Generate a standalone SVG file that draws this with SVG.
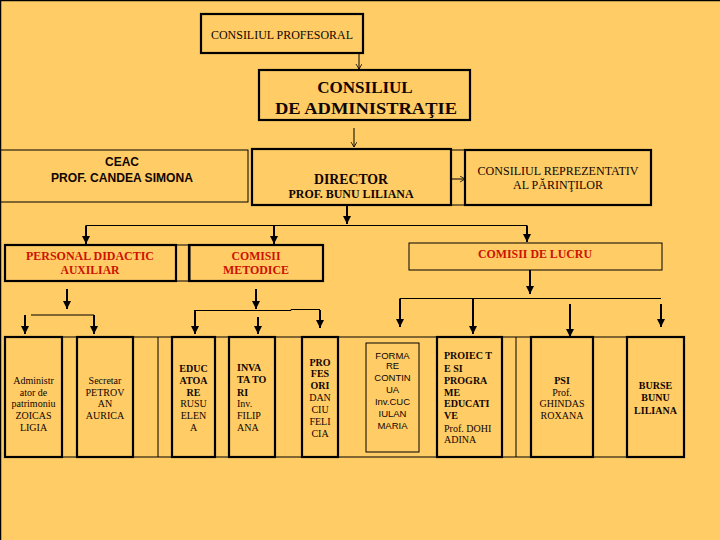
<svg xmlns="http://www.w3.org/2000/svg" width="720" height="540" viewBox="0 0 720 540">
<defs>
<marker id="ah" markerUnits="userSpaceOnUse" markerWidth="9" markerHeight="9" refX="8" refY="4" orient="auto">
<path d="M0,0 L8,4 L0,8 z" fill="#000"/>
</marker>
<marker id="ahs" markerUnits="userSpaceOnUse" markerWidth="7" markerHeight="7" refX="5" refY="3" orient="auto">
<path d="M0,0 L5,3 L0,6" fill="none" stroke="#000" stroke-width="0.8"/>
</marker>
<style>
.thick{fill:none;stroke:#000;stroke-width:2.2}
.thin{fill:none;stroke:#000;stroke-width:1}
.ts{font-family:"Liberation Serif","Times New Roman",serif;fill:#100500}
.ss{font-family:"Liberation Sans",Arial,sans-serif;fill:#100500}
.b{font-weight:bold}
.red{fill:#CC1100}
.c{text-anchor:middle}
.sm{font-size:10px}
.conn{stroke:#000;stroke-width:2;fill:none}
.connt{stroke:#000;stroke-width:1;fill:none}
</style>
</defs>
<rect x="0" y="0" width="720" height="540" fill="#FFCC66"/>
<path d="M0.5,540 V0.5 H720" fill="none" stroke="#000" stroke-width="1.5"/>

<!-- bottom row frame -->
<g id="row-frame">
<rect class="thin" x="5" y="337" width="679" height="120"/>
<line class="thin" x1="158" y1="337" x2="158" y2="457"/>
<line class="thin" x1="516" y1="337" x2="516" y2="457"/>
<rect class="thin" x="451" y="150" width="14" height="55"/>
<rect class="thin" x="176" y="245" width="14" height="36"/>
</g>

<g id="consiliul-profesoral">
<rect class="thick" x="201" y="14" width="162" height="39"/>
<text class="ts c" x="282" y="39" font-size="12" textLength="142" lengthAdjust="spacingAndGlyphs">CONSILIUL PROFESORAL</text>
</g>

<g id="consiliul-administratie">
<rect class="thick" x="259" y="70" width="211" height="50"/>
<text class="ts b c" x="365" y="93" font-size="17">CONSILIUL</text>
<text class="ts b c" x="366" y="114" font-size="17" textLength="182" lengthAdjust="spacingAndGlyphs">DE  ADMINISTRAŢIE</text>
</g>

<g id="ceac">
<rect class="thin" x="0.5" y="150" width="247.5" height="52"/>
<text class="ss b c" x="122" y="166" font-size="12">CEAC</text>
<text class="ss b c" x="122" y="182" font-size="12" textLength="142" lengthAdjust="spacingAndGlyphs">PROF. CANDEA SIMONA</text>
</g>

<g id="director">
<rect class="thick" x="252" y="149" width="199" height="56"/>
<text class="ts b c" x="351" y="184" font-size="15" textLength="74" lengthAdjust="spacingAndGlyphs">DIRECTOR</text>
<text class="ts b c" x="351" y="198" font-size="12.5" textLength="125" lengthAdjust="spacingAndGlyphs">PROF. BUNU LILIANA</text>
</g>

<g id="consiliul-reprezentativ">
<rect class="thick" x="465" y="150" width="186" height="55"/>
<text class="ts c" x="558" y="175" font-size="13" textLength="161" lengthAdjust="spacingAndGlyphs">CONSILIUL REPREZENTATIV</text>
<text class="ts c" x="558" y="189" font-size="13" textLength="90" lengthAdjust="spacingAndGlyphs">AL PĂRINŢILOR</text>
</g>

<g id="personal-didactic-auxiliar">
<rect class="thick" x="5" y="245" width="171" height="36"/>
<text class="ts b c red" x="90" y="260" font-size="13" textLength="128" lengthAdjust="spacingAndGlyphs">PERSONAL DIDACTIC</text>
<text class="ts b c red" x="90" y="274" font-size="13" textLength="59" lengthAdjust="spacingAndGlyphs">AUXILIAR</text>
</g>

<g id="comisii-metodice">
<rect class="thick" x="189" y="245" width="134" height="36"/>
<text class="ts b c red" x="256" y="260" font-size="13" textLength="49" lengthAdjust="spacingAndGlyphs">COMISII</text>
<text class="ts b c red" x="256" y="274" font-size="13" textLength="66" lengthAdjust="spacingAndGlyphs">METODICE</text>
</g>

<g id="comisii-de-lucru">
<rect class="thin" x="409" y="243" width="253" height="27"/>
<text class="ts b c red" x="535" y="258" font-size="13" textLength="114" lengthAdjust="spacingAndGlyphs">COMISII DE LUCRU</text>
</g>

<g id="administrator">
<rect class="thick" x="5" y="337" width="57" height="120"/>
<text class="ts c sm" x="33.5" y="384">Administr</text>
<text class="ts c sm" x="33.5" y="396">ator de</text>
<text class="ts c sm" x="33.5" y="407">patrimoniu</text>
<text class="ts c sm" x="33.5" y="419">ZOICAS</text>
<text class="ts c sm" x="33.5" y="431">LIGIA</text>
</g>

<g id="secretar">
<rect class="thick" x="77" y="337" width="56" height="120"/>
<text class="ts c sm" x="105" y="384">Secretar</text>
<text class="ts c sm" x="105" y="396">PETROV</text>
<text class="ts c sm" x="105" y="407">AN</text>
<text class="ts c sm" x="105" y="419">AURICA</text>
</g>

<g id="educatoare">
<rect class="thick" x="172" y="337" width="43" height="120"/>
<text class="ts b c sm" x="193.5" y="372">EDUC</text>
<text class="ts b c sm" x="193.5" y="384">ATOA</text>
<text class="ts b c sm" x="193.5" y="396">RE</text>
<text class="ts c sm" x="193.5" y="407">RUSU</text>
<text class="ts c sm" x="193.5" y="419">ELEN</text>
<text class="ts c sm" x="193.5" y="431">A</text>
</g>

<g id="invatatori">
<rect class="thick" x="229" y="337" width="46" height="120"/>
<text class="ts b sm" x="237" y="371">INVA</text>
<text class="ts b sm" x="237" y="383">TA TO</text>
<text class="ts b sm" x="237" y="396">RI</text>
<text class="ts sm" x="237" y="407">Inv.</text>
<text class="ts sm" x="237" y="419">FILIP</text>
<text class="ts sm" x="237" y="431">ANA</text>
</g>

<g id="profesori">
<rect class="thick" x="302" y="337" width="36" height="120"/>
<text class="ts b c sm" x="320" y="366">PRO</text>
<text class="ts b c sm" x="320" y="377">FES</text>
<text class="ts b c sm" x="320" y="389">ORI</text>
<text class="ts c sm" x="320" y="401">DAN</text>
<text class="ts c sm" x="320" y="413">CIU</text>
<text class="ts c sm" x="320" y="425">FELI</text>
<text class="ts c sm" x="320" y="437">CIA</text>
</g>

<g id="formare-continua">
<rect class="thin" x="366" y="343" width="53" height="109"/>
<text class="ss c" x="392.5" y="359" font-size="9.5">FORMA</text>
<text class="ss c" x="392.5" y="369" font-size="9.5">RE</text>
<text class="ss c" x="392.5" y="381" font-size="9.5">CONTIN</text>
<text class="ss c" x="392.5" y="393" font-size="9.5">UA</text>
<text class="ss c" x="392.5" y="405" font-size="9.5">Inv.CUC</text>
<text class="ss c" x="392.5" y="417" font-size="9.5">IULAN</text>
<text class="ss c" x="392.5" y="429" font-size="9.5">MARIA</text>
</g>

<g id="proiecte">
<rect class="thick" x="437" y="337" width="65" height="120"/>
<text class="ts b sm" x="444" y="359">PROIEC T</text>
<text class="ts b sm" x="444" y="372">E SI</text>
<text class="ts b sm" x="444" y="384">PROGRA</text>
<text class="ts b sm" x="444" y="396">ME</text>
<text class="ts b sm" x="444" y="407">EDUCATI</text>
<text class="ts b sm" x="444" y="419">VE</text>
<text class="ts sm" x="444" y="432">Prof. DOHI</text>
<text class="ts sm" x="444" y="443">ADINA</text>
</g>

<g id="psi">
<rect class="thick" x="531" y="337" width="62" height="120"/>
<text class="ts b c sm" x="562" y="384">PSI</text>
<text class="ts c sm" x="562" y="396">Prof.</text>
<text class="ts c sm" x="562" y="407">GHINDAS</text>
<text class="ts c sm" x="562" y="419">ROXANA</text>
</g>

<g id="burse">
<rect class="thick" x="627" y="337" width="57" height="120"/>
<text class="ts b c sm" x="655.5" y="389">BURSE</text>
<text class="ts b c sm" x="655.5" y="401">BUNU</text>
<text class="ts b c sm" x="655.5" y="414">LILIANA</text>
</g>

<g id="connectors">
<line class="connt" x1="359" y1="53" x2="359" y2="69" marker-end="url(#ahs)"/>
<line class="connt" x1="354" y1="128" x2="354" y2="147" marker-end="url(#ahs)"/>
<line class="connt" x1="451" y1="179" x2="465" y2="179" marker-end="url(#ahs)"/>
<line class="conn" x1="347" y1="205" x2="347" y2="224" marker-end="url(#ah)"/>
<polyline class="connt" points="86,225.5 527,225.5"/>
<line class="conn" x1="86" y1="225.5" x2="86" y2="244" marker-end="url(#ah)"/>
<line class="conn" x1="274" y1="225.5" x2="274" y2="244" marker-end="url(#ah)"/>
<line class="conn" x1="527" y1="225.5" x2="527" y2="242" marker-end="url(#ah)"/>
<line class="conn" x1="67" y1="289" x2="67" y2="309" marker-end="url(#ah)"/>
<polyline class="connt" points="31,315 94,315"/>
<line class="conn" x1="25" y1="315" x2="25" y2="334" marker-end="url(#ah)"/>
<line class="conn" x1="94" y1="315" x2="94" y2="334" marker-end="url(#ah)"/>
<line class="conn" x1="256" y1="289" x2="256" y2="309" marker-end="url(#ah)"/>
<polyline class="connt" points="195,310.5 291,310.5 291,309.5 320,309.5"/>
<line class="conn" x1="195" y1="310" x2="195" y2="334" marker-end="url(#ah)"/>
<line class="conn" x1="258" y1="317" x2="258" y2="334" marker-end="url(#ah)"/>
<line class="conn" x1="320" y1="310" x2="320" y2="328" marker-end="url(#ah)"/>
<line class="conn" x1="530" y1="270" x2="530" y2="294" marker-end="url(#ah)"/>
<polyline class="connt" points="400,298.5 661,298.5"/>
<line class="conn" x1="400" y1="298.5" x2="400" y2="327" marker-end="url(#ah)"/>
<line class="conn" x1="473" y1="298.5" x2="473" y2="334" marker-end="url(#ah)"/>
<line class="conn" x1="570" y1="304" x2="570" y2="337" marker-end="url(#ah)"/>
<line class="conn" x1="661" y1="304" x2="661" y2="327" marker-end="url(#ah)"/>
</g>
</svg>
